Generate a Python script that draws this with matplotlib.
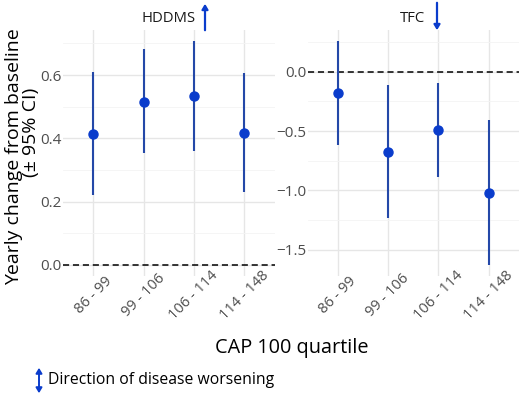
import matplotlib
matplotlib.use("Agg")
import matplotlib.pyplot as plt
from matplotlib.ticker import MultipleLocator

plt.rcParams['font.family'] = ['Open Sans', 'DejaVu Sans']

categories = ["86 - 99", "99 - 106", "106 - 114", "114 - 148"]

hddms_est = [0.415, 0.516, 0.534, 0.417]
hddms_lo = [0.221, 0.355, 0.361, 0.229]
hddms_hi = [0.608, 0.681, 0.707, 0.605]

tfc_est = [-0.182, -0.673, -0.491, -1.018]
tfc_lo = [-0.617, -1.234, -0.884, -1.627]
tfc_hi = [0.258, -0.112, -0.093, -0.407]

panels = [
    ("HDDMS", hddms_est, hddms_lo, hddms_hi, 0.2, "up"),
    ("TFC", tfc_est, tfc_lo, tfc_hi, 0.5, "down"),
]

W, H = 520, 397
fig = plt.figure(figsize=(W / 100, H / 100), dpi=100)

line_col = "#2448a8"
pt_col = "#0a3ccc"
grid_col = "#e6e6e6"
minor_col = "#f4f4f4"
tick_col = "#4d4d4d"

ax_lefts = [63 / W, 307.5 / W]
ax_w = 211.5 / W
ax_bottom = (H - 276) / H
ax_h = 246 / H

axes = []
for i, (name, est, lo, hi, step, direction) in enumerate(panels):
    ax = fig.add_axes([ax_lefts[i], ax_bottom, ax_w, ax_h])
    axes.append(ax)
    x = list(range(len(categories)))
    ymin = min(min(lo), 0.0)
    ymax = max(max(hi), 0.0)
    pad = 0.05 * (ymax - ymin)
    ax.set_ylim(ymin - pad, ymax + pad)
    ax.set_xlim(-0.6, len(categories) - 0.4)
    ax.yaxis.set_major_locator(MultipleLocator(step))
    ax.yaxis.set_minor_locator(MultipleLocator(step / 2))
    ax.set_xticks(x)
    ax.set_xticklabels(categories, rotation=45, ha="center", va="center",
                       rotation_mode="anchor")
    ax.grid(True, which="major", axis="both", color=grid_col, linewidth=1.0, zorder=0)
    ax.grid(True, which="minor", axis="y", color=minor_col, linewidth=0.6, zorder=0)
    ax.set_axisbelow(True)
    for s in ax.spines.values():
        s.set_visible(False)
    ax.tick_params(axis="both", which="both", length=0, colors=tick_col)
    ax.tick_params(axis="y", pad=1, labelsize=11)
    ax.tick_params(axis="x", pad=14, labelsize=10.5)
    ax.axhline(0, color="black", linestyle=(0, (4, 2.5)), linewidth=1.1, zorder=1)
    ax.vlines(x, lo, hi, color=line_col, linewidth=1.5, zorder=2)
    ax.plot(x, est, "o", color=pt_col, markersize=6.5, zorder=3)

# Panel titles with direction arrows
fig.text(169 / W, 1 - 18 / H, "HDDMS", ha="center", va="center", fontsize=10.7, color="#1a1a1a")
fig.add_artist(matplotlib.patches.FancyArrowPatch(
    (205 / W, 1 - 33 / H), (205 / W, 1 - 1 / H), transform=fig.transFigure,
    arrowstyle="-|>,head_length=3,head_width=1.8", color=pt_col, linewidth=1.6))
fig.text(413 / W, 1 - 18 / H, "TFC", ha="center", va="center", fontsize=10.7, color="#1a1a1a")
fig.add_artist(matplotlib.patches.FancyArrowPatch(
    (437 / W, 1 - 0 / H), (437 / W, 1 - 33 / H), transform=fig.transFigure,
    arrowstyle="-|>,head_length=3,head_width=1.8", color=pt_col, linewidth=1.6))

fig.text(14 / W, 1 - 157 / H, "Yearly change from baseline", rotation=90,
         ha="center", va="center", fontsize=14, color="black")
fig.text(31 / W, 1 - 132 / H, "(± 95% CI)", rotation=90,
         ha="center", va="center", fontsize=14, color="black")
fig.text(292 / W, 1 - 348 / H, "CAP 100 quartile", ha="center", va="center", fontsize=14.3, color="black")

# Legend
fig.add_artist(matplotlib.patches.FancyArrowPatch(
    (39 / W, 1 - 365 / H), (39 / W, 1 - 396 / H), transform=fig.transFigure,
    arrowstyle="<|-|>,head_length=3,head_width=1.8", color=pt_col, linewidth=1.4))
fig.text(48 / W, 1 - 380 / H, "Direction of disease worsening", ha="left", va="center",
         fontsize=11.3, color="black")

fig.savefig("out.png", dpi=100, facecolor="white")
